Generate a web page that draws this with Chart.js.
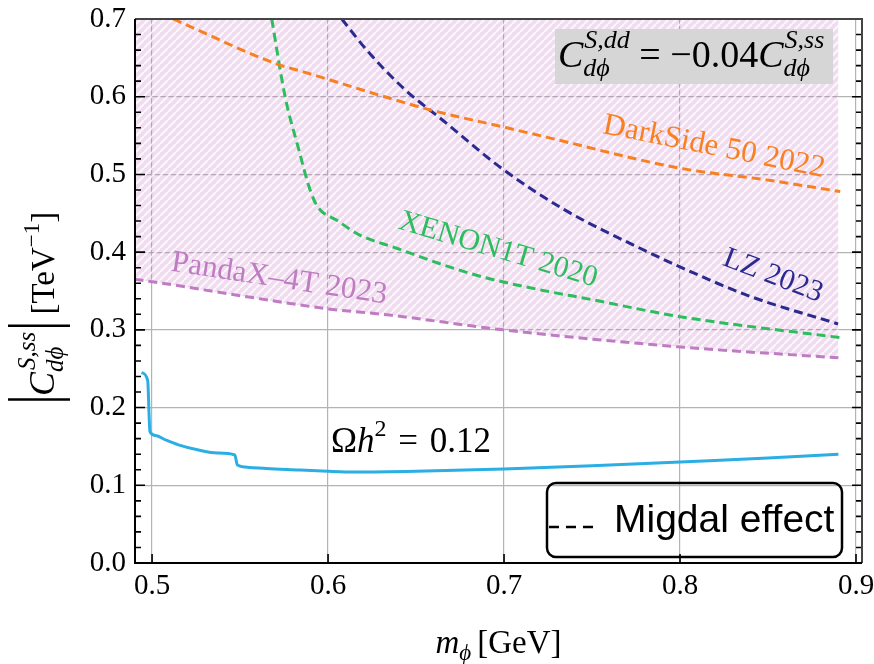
<!DOCTYPE html>
<html><head><meta charset="utf-8">
<script src="https://cdn.jsdelivr.net/npm/chart.js@4.4.1/dist/chart.umd.min.js"></script>
<style>html,body{margin:0;padding:0;background:#fff}canvas{display:block}</style>
</head><body>
<canvas id="c" width="874" height="664"></canvas>
<script>
// ---- axis ticks ----
const xTicks = [0.5, 0.6, 0.7, 0.8, 0.9];
const yTicks = [0.0, 0.1, 0.2, 0.3, 0.4, 0.5, 0.6, 0.7];
const X_MIN = 0.4903, X_MAX = 0.9034, Y_MIN = 0, Y_MAX = 0.7;

// ---- series (m_phi [GeV], |C| [TeV^-1]) ----
const pandaxM = [0.490, 0.500, 0.550, 0.600, 0.635, 0.6995, 0.800, 0.890];
const pandaxC = [0.365, 0.362, 0.344, 0.327, 0.319, 0.300, 0.278, 0.264];

const xenonM = [0.568, 0.5756, 0.583, 0.5898, 0.594, 0.605, 0.618, 0.639, 0.665, 0.688, 0.726, 0.745, 0.800, 0.891];
const xenonC = [0.700, 0.600, 0.535, 0.480, 0.4586, 0.441, 0.422, 0.405, 0.384, 0.368, 0.349, 0.341, 0.317, 0.290];

const lzM = [0.6078, 0.622, 0.6428, 0.665, 0.698, 0.734, 0.781, 0.800, 0.840, 0.8898];
const lzC = [0.700, 0.660, 0.611, 0.570, 0.509, 0.455, 0.401, 0.381, 0.343, 0.3076];

const darksideM = [0.512, 0.571, 0.586, 0.635, 0.658, 0.7016, 0.724, 0.800, 0.849, 0.891];
const darksideC = [0.700, 0.642, 0.632, 0.598, 0.583, 0.560, 0.548, 0.508, 0.493, 0.478];

const relicM = [0.494, 0.4975, 0.4988, 0.502, 0.508, 0.515, 0.527, 0.537, 0.547, 0.5485, 0.555, 0.565, 0.584, 0.600, 0.615, 0.650, 0.700, 0.750, 0.800, 0.850, 0.890];
const relicC = [0.245, 0.235, 0.169, 0.164, 0.158, 0.152, 0.145, 0.1415, 0.139, 0.126, 0.123, 0.1215, 0.1197, 0.118, 0.117, 0.118, 0.121, 0.125, 0.130, 0.135, 0.140];

const pts = (xs, ys) => xs.map((v, i) => ({x: v, y: ys[i]}));

const SERIF = '"Liberation Serif","DejaVu Serif",serif';
const SANS = '"Liberation Sans","DejaVu Sans",sans-serif';
const F = (s, it) => (it ? 'italic ' : '') + s + 'px ' + SERIF;

function makeHatch() {
  const s = 8, c = document.createElement('canvas');
  c.width = s; c.height = s;
  const g = c.getContext('2d');
  g.fillStyle = 'rgba(195,110,195,0.25)';
  g.fillRect(0, 0, s, s);
  g.strokeStyle = 'rgba(255,255,255,0.8)';
  g.lineWidth = 2.2;
  g.beginPath();
  for (const o of [-s, 0, s]) { g.moveTo(o, s); g.lineTo(o + s, 0); }
  g.stroke();
  return g.createPattern(c, 'repeat');
}

// rich text helpers
function measure(ctx, parts) {
  let w = 0;
  for (const p of parts) {
    if (p.bar) { p.w = p.bw; }
    else if (p.sup !== undefined || p.sub !== undefined) {
      ctx.font = p.f;
      const a = p.sup ? ctx.measureText(p.sup).width + (p.supDx || 0) : 0;
      const b = p.sub ? ctx.measureText(p.sub).width + (p.subDx || 0) : 0;
      p.w = Math.max(a, b) + (p.pad || 0);
    } else { ctx.font = p.f; p.w = ctx.measureText(p.t).width + (p.pad || 0); }
    w += p.w;
  }
  return w;
}
function drawRuns(ctx, parts, x, y) {
  measure(ctx, parts);
  for (const p of parts) {
    if (p.bar) {
      ctx.save(); ctx.lineWidth = 2.6; ctx.strokeStyle = ctx.fillStyle;
      ctx.beginPath(); ctx.moveTo(x + p.bw / 2, y + p.y1); ctx.lineTo(x + p.bw / 2, y + p.y2); ctx.stroke();
      ctx.restore();
    } else if (p.sup !== undefined || p.sub !== undefined) {
      ctx.font = p.f;
      if (p.sup) ctx.fillText(p.sup, x + (p.supDx || 0), y + p.supDy);
      if (p.sub) ctx.fillText(p.sub, x + (p.subDx || 0), y + p.subDy);
    } else {
      ctx.font = p.f; ctx.fillText(p.t, x + (p.dx || 0), y + (p.dy || 0));
    }
    x += p.w;
  }
}

const overlay = {
  id: 'overlay',
  afterDatasetsDraw(chart) {
    const {ctx, chartArea: a, scales: {x, y}} = chart;
    ctx.save();
    // curve labels
    const rot = (txt, col, xv, yv, ang, size) => {
      ctx.save();
      ctx.translate(x.getPixelForValue(xv), y.getPixelForValue(yv));
      ctx.rotate(ang * Math.PI / 180);
      ctx.fillStyle = col; ctx.font = F(size, false);
      ctx.textAlign = 'center'; ctx.textBaseline = 'middle';
      ctx.fillText(txt, 0, 0);
      ctx.restore();
    };
    rot('DarkSide 50 2022', '#f98021', 0.8193, 0.5353, 11.3, 31);
    rot('XENON1T 2020', '#2dbd5e', 0.6966, 0.4028, 16.5, 30);
    rot('LZ 2023', '#2b2a8e', 0.8528, 0.3693, 21, 30);
    rot('PandaX\u20134T 2023', '#c07cc3', 0.5722, 0.3654, 8.7, 31);

    ctx.textAlign = 'left'; ctx.textBaseline = 'alphabetic';
    ctx.fillStyle = '#000';
    // Omega h^2 label
    drawRuns(ctx, [
      {t: '\u03A9', f: F(35, false)},
      {t: 'h', f: F(35, true)},
      {sup: '2', f: F(24, false), supDy: -16, pad: 3},
      {t: ' = ', f: F(35, false), pad: 3},
      {t: '0.12', f: F(35, false)}
    ], x.getPixelForValue(0.6017), y.getPixelForValue(0.1428));

    // top-right annotation box
    ctx.fillStyle = '#d6d6d6';
    ctx.fillRect(555, 29, 278, 55);
    ctx.fillStyle = '#000';
    drawRuns(ctx, [
      {t: 'C', f: F(38, true)},
      {sup: 'S,dd', sub: 'd\u03D5', f: F(26, true), supDy: -19, subDy: 9, supDx: 1},
      {t: ' = \u22120.04', f: F(38, false)},
      {t: 'C', f: F(38, true)},
      {sup: 'S,ss', sub: 'd\u03D5', f: F(26, true), supDy: -19, subDy: 9, supDx: 1}
    ], 558, 67);

    // legend box
    ctx.strokeStyle = '#000'; ctx.lineWidth = 2.5;
    ctx.beginPath(); ctx.roundRect(547, 483, 295, 74, 9); ctx.stroke();
    ctx.setLineDash([10, 7]);
    ctx.beginPath(); ctx.moveTo(549, 527); ctx.lineTo(593, 527); ctx.stroke();
    ctx.setLineDash([]);
    ctx.font = '39px ' + SANS; ctx.fillStyle = '#000';
    ctx.fillText('Migdal effect', 614, 532);

    // axis ticks (inward)
    ctx.strokeStyle = '#000'; ctx.lineWidth = 1.6;
    ctx.beginPath();
    for (let i = 0; i <= 35; i++) {
      const v = i * 0.02, py = y.getPixelForValue(v), L = (i % 5 === 0) ? 10 : 6;
      ctx.moveTo(a.left, py); ctx.lineTo(a.left + L, py);
      ctx.moveTo(a.right, py); ctx.lineTo(a.right - L, py);
    }
    for (const v of xTicks) {
      const px = x.getPixelForValue(v);
      ctx.moveTo(px, a.bottom); ctx.lineTo(px, a.bottom - 9);
    }
    ctx.stroke();
    // frame
    ctx.lineWidth = 2;
    ctx.strokeStyle = '#444';
    ctx.beginPath(); ctx.moveTo(a.left, a.top); ctx.lineTo(a.right, a.top); ctx.lineTo(a.right, a.bottom); ctx.stroke();
    ctx.strokeStyle = '#000';
    ctx.beginPath(); ctx.moveTo(a.left, a.top); ctx.lineTo(a.left, a.bottom); ctx.lineTo(a.right, a.bottom); ctx.stroke();

    // axis titles
    ctx.fillStyle = '#000';
    const xt = [
      {t: 'm', f: F(33, true)},
      {sub: '\u03D5', f: F(23, true), subDy: 7, pad: 6},
      {t: '[GeV]', f: F(33, false)}
    ];
    const wx = measure(ctx, xt);
    drawRuns(ctx, xt, (a.left + a.right) / 2 - wx / 2, 653);

    const yt = [
      {bar: true, bw: 7, y1: -46, y2: 16},
      {t: 'C', f: F(36, true)},
      {sup: 'S,ss', sub: 'd\u03D5', f: F(25, true), supDy: -19, subDy: 9, supDx: 2, pad: 3},
      {bar: true, bw: 6, y1: -46, y2: 16},
      {t: ' [TeV', f: F(33, false)},
      {sup: '\u22121', f: F(23, false), supDy: -15},
      {t: ']', f: F(33, false)}
    ];
    ctx.save();
    ctx.translate(54, 403);
    ctx.rotate(-Math.PI / 2);
    drawRuns(ctx, yt, 0, 0);
    ctx.restore();

    ctx.restore();
  }
};

const dash = [9, 5];
const common = {pointRadius: 0, borderWidth: 3, cubicInterpolationMode: 'monotone', fill: false};
new Chart(document.getElementById('c').getContext('2d'), {
  type: 'line',
  data: {
    datasets: [
      Object.assign({}, common, {label: 'relic', data: pts(relicM, relicC), borderColor: '#2aaee4', order: 1}),
      Object.assign({}, common, {label: 'DarkSide', data: pts(darksideM, darksideC), borderColor: '#f98021', borderDash: dash, order: 2}),
      Object.assign({}, common, {label: 'LZ', data: pts(lzM, lzC), borderColor: '#2b2a8e', borderDash: dash, order: 3}),
      Object.assign({}, common, {label: 'XENON', data: pts(xenonM, xenonC), borderColor: '#2dbd5e', borderDash: dash, order: 4}),
      Object.assign({}, common, {label: 'PandaX', data: pts(pandaxM, pandaxC), borderColor: '#c07cc3', borderDash: dash, order: 5, fill: 'end', backgroundColor: makeHatch()})
    ]
  },
  options: {
    responsive: false, animation: false, devicePixelRatio: 1,
    layout: {padding: {top: 19, right: 12, left: 0, bottom: 0}},
    plugins: {legend: {display: false}, tooltip: {enabled: false}},
    scales: {
      x: {
        type: 'linear', min: X_MIN, max: X_MAX,
        afterFit: s => { s.height = 101; s.paddingLeft = 0; s.paddingRight = 0; },
        afterBuildTicks: s => { s.ticks = xTicks.map(v => ({value: v})); },
        grid: {color: '#b3b3b3', lineWidth: 1.2, drawTicks: false},
        border: {display: false},
        ticks: {font: {family: SERIF, size: 29}, color: '#000', padding: 6, maxRotation: 0, autoSkip: false, callback: v => v.toFixed(1)}
      },
      y: {
        type: 'linear', min: Y_MIN, max: Y_MAX,
        afterFit: s => { s.width = 135; s.paddingTop = 0; s.paddingBottom = 0; },
        afterBuildTicks: s => { s.ticks = yTicks.map(v => ({value: v})); },
        grid: {color: '#b3b3b3', lineWidth: 1.2, drawTicks: false},
        border: {display: false},
        ticks: {font: {family: SERIF, size: 29}, color: '#000', padding: 9, autoSkip: false, callback: v => v.toFixed(1)}
      }
    }
  },
  plugins: [overlay]
});
</script>
</body></html>
